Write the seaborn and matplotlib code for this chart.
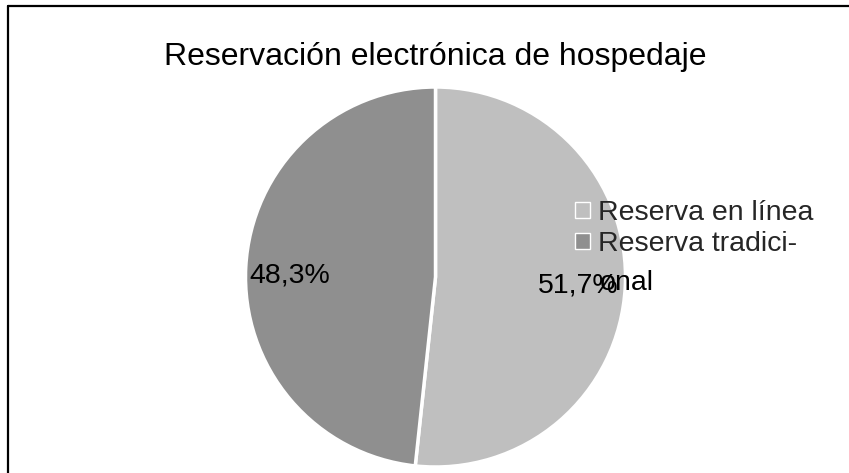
import matplotlib
matplotlib.use("Agg")
import matplotlib.pyplot as plt
from matplotlib.lines import Line2D
import seaborn as sns

# Chart data
categories = ["Reserva en línea", "Reserva tradicional"]
shares = [51.7, 48.3]
slice_colors = ["#bfbfbf", "#8f8f8f"]
title = "Reservación electrónica de hospedaje"

sns.set_theme(style="white")
plt.rcParams["font.family"] = ["Liberation Sans", "DejaVu Sans"]

W, H = 849, 473
fig = plt.figure(figsize=(W / 100, H / 100), dpi=100)

# Square axes holding the pie (centre ~ (435.5, 277) px, radius ~190 px)
cx, cy, r = 435.5, 277, 190
ax = fig.add_axes([(cx - r) / W, (H - cy - r) / H, 2 * r / W, 2 * r / H])

def fmt_pct(p):
    return "{:.1f}%".format(p).replace(".", ",")

wedges, texts, autotexts = ax.pie(
    shares, colors=slice_colors, startangle=90, counterclock=False,
    autopct=fmt_pct, pctdistance=0.76,
    wedgeprops=dict(edgecolor="white", linewidth=2.5),
    textprops=dict(fontsize=20.5, color="black"),
)
ax.set_xlim(-1, 1)
ax.set_ylim(-1, 1)
ax.axis("off")

# Excel-like "best fit" label placement
autotexts[0].set_position((0.75, -0.047))
autotexts[1].set_position((-0.766, 0.01))

fig.text(cx / W, 1 - 57 / H, title, ha="center", va="center",
         fontsize=23, color="black")

# Legend: the second label wraps in the original ("Reserva tradici-" / "onal")
labels = [categories[0], categories[1][:15] + "-"]
leg = fig.legend(wedges, labels, loc="upper left",
                 bbox_to_anchor=(575 / W, 1 - 200 / H),
                 frameon=False, fontsize=20.5, handlelength=0.52,
                 handleheight=0.52, handletextpad=0.3, labelspacing=0.18,
                 borderpad=0, borderaxespad=0)
for h in leg.legend_handles:
    h.set_edgecolor("white")
    h.set_linewidth(1)
fig.text(600 / W, 1 - 283 / H, categories[1][15:], ha="left", va="center",
         fontsize=20.5, color="black")

# Chart area border (only left/top edges fall inside the image)
bx, by = 7.5 / W, 1 - 6.5 / H
fig.add_artist(Line2D([bx, bx], [0, by], transform=fig.transFigure,
                      color="black", linewidth=1.6))
fig.add_artist(Line2D([bx, 1], [by, by], transform=fig.transFigure,
                      color="black", linewidth=1.6))

fig.savefig("out.png", dpi=100)
